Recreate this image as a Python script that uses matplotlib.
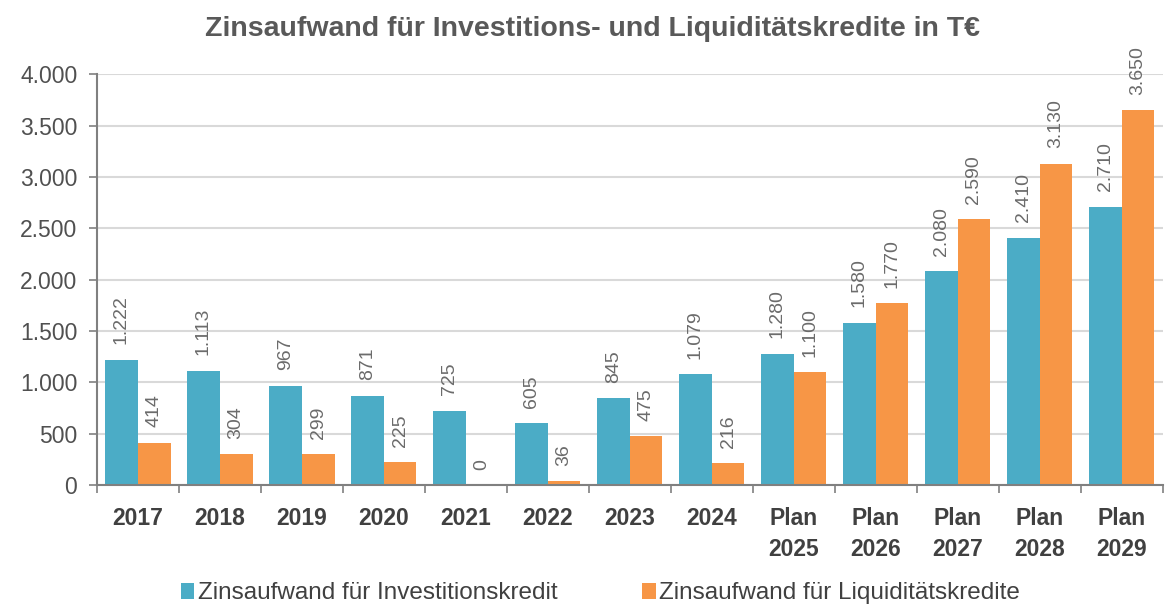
import numpy as np
import matplotlib.pyplot as plt
from matplotlib.ticker import FuncFormatter, FixedLocator

plt.rcParams['font.family'] = ['Liberation Sans', 'DejaVu Sans']

# --- Data ---
categories = ["2017", "2018", "2019", "2020", "2021", "2022", "2023", "2024",
              "Plan\n2025", "Plan\n2026", "Plan\n2027", "Plan\n2028", "Plan\n2029"]
investition = [1222, 1113, 967, 871, 725, 605, 845, 1079, 1280, 1580, 2080, 2410, 2710]
liquiditaet = [414, 304, 299, 225, 0, 36, 475, 216, 1100, 1770, 2590, 3130, 3650]

series_names = ["Zinsaufwand für Investitionskredit", "Zinsaufwand für Liquiditätskredite"]
colors = ["#4BACC6", "#F79646"]


def de_fmt(v):
    return f"{int(v):,}".replace(",", ".")


fig = plt.figure(figsize=(11.66, 6.04), dpi=100)
ax = fig.add_axes([0.083, 0.197, 0.914, 0.68])

x = np.arange(len(categories))
w = 0.40
b1 = ax.bar(x - w / 2, investition, w, color=colors[0], label=series_names[0])
b2 = ax.bar(x + w / 2, liquiditaet, w, color=colors[1], label=series_names[1])

# rotated value labels above each bar
for bars, vals in ((b1, investition), (b2, liquiditaet)):
    for rect, v in zip(bars, vals):
        ax.annotate(de_fmt(v), (rect.get_x() + rect.get_width() / 2, rect.get_height()),
                    xytext=(0, 11), textcoords="offset points", rotation=90,
                    ha="center", va="bottom", fontsize=14, color="#6b6b6b")

ax.set_xlim(-0.5, len(categories) - 0.5)
ax.set_ylim(0, 4000)
ax.set_yticks(np.arange(0, 4001, 500))
ax.yaxis.set_major_formatter(FuncFormatter(lambda v, p: de_fmt(v)))
ax.grid(axis="y", color="#D9D9D9", linewidth=1.5)
ax.set_axisbelow(True)

# category labels centred, tick marks on the group boundaries
ax.set_xticks(x)
ax.set_xticklabels(categories, fontsize=16.5, fontweight="bold", color="#404040",
                   linespacing=1.45)
ax.tick_params(axis="x", which="major", length=0, pad=16)
ax.xaxis.set_minor_locator(FixedLocator(np.arange(-0.5, len(categories), 1.0)))
ax.tick_params(axis="x", which="minor", length=6, color="#808080", width=1.2)
ax.tick_params(axis="y", labelsize=16.5, labelcolor="#505050", color="#808080",
               length=6, width=1.2, pad=8)

for s in ("top", "right"):
    ax.spines[s].set_visible(False)
for s in ("left", "bottom"):
    ax.spines[s].set_color("#808080")
    ax.spines[s].set_linewidth(1.5)

fig.text(0.508, 0.952, "Zinsaufwand für Investitions- und Liquiditätskredite in T€",
         ha="center", va="center", fontsize=20.5, fontweight="bold", color="#595959")

fig.legend(loc="lower center", bbox_to_anchor=(0.515, -0.037), ncol=2, frameon=False,
           fontsize=17.5, handlelength=0.55, handleheight=0.6, handletextpad=0.15,
           columnspacing=3.5, labelcolor="#404040")

fig.savefig("out.png", dpi=100)
